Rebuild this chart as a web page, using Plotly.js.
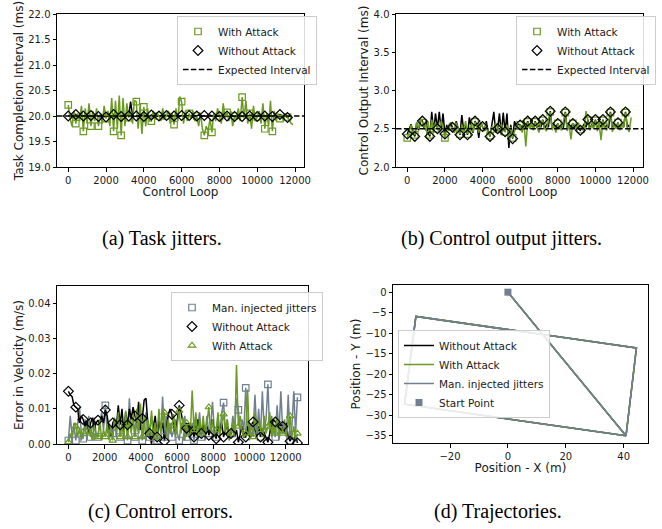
<!DOCTYPE html>
<html>
<head>
<meta charset="utf-8">
<script src="https://cdn.plot.ly/plotly-3.0.1.min.js"></script>
<style>html,body{margin:0;padding:0;background:#fff;}#chart{width:662px;height:529px;}</style>
</head>
<body>
<div id="chart"></div>
<script>
// ---------- DATA ----------
// (a) Task completion interval (ms), one value per 100 control loops
const taskStep = 100;
const taskWithAttack = [
20.22,19.95,19.80,20.10,19.85,20.05,19.90,20.20,19.70,20.15,19.85,20.25,19.80,20.10,19.90,20.15,
19.80,20.05,19.85,20.20,19.95,20.10,19.80,20.35,19.70,20.30,19.75,20.40,19.62,20.35,19.80,20.25,
19.97,20.10,19.85,20.30,20.28,19.75,20.20,19.65,20.18,19.80,20.15,19.90,19.90,20.10,19.95,20.05,
20.00,19.90,20.15,19.95,20.00,20.10,19.85,20.05,19.83,20.15,19.90,20.38,20.28,19.85,20.10,19.90,
20.05,19.95,20.10,19.90,20.00,19.80,20.05,19.75,19.62,19.80,19.70,19.95,19.68,20.05,19.90,20.15,
20.00,19.85,20.25,19.95,20.07,19.90,20.10,19.80,20.00,19.95,20.15,19.90,20.37,19.95,20.30,19.85,
20.05,19.75,20.20,19.90,19.98,20.10,19.85,20.25,19.75,20.05,19.80,20.30,19.70,20.10,19.90,20.05,
19.95,20.00,19.90,20.05,19.98,19.90,19.85,19.83];
const taskWithoutAttack = [
20.00,20.01,19.99,20.02,20.03,19.98,20.01,20.00,20.00,20.02,19.99,20.01,20.01,20.00,19.98,20.02,
19.99,20.01,20.00,19.99,19.98,20.01,20.02,20.00,20.03,20.01,19.99,20.00,19.99,20.02,20.00,20.01,
20.00,20.28,20.02,19.99,20.00,20.01,19.99,20.02,19.99,20.00,20.01,19.99,20.02,20.00,20.03,19.99,
20.00,20.01,19.98,20.02,20.01,20.00,19.99,20.01,20.00,20.02,19.99,20.00,20.01,19.99,20.02,20.00,
20.01,20.00,19.99,20.01,20.00,20.02,19.99,20.00,20.01,19.99,20.00,20.02,20.00,20.01,19.99,20.00,
19.99,20.01,20.00,20.02,20.00,19.99,20.01,20.00,19.99,20.00,20.02,20.01,19.99,20.00,20.01,19.99,
20.00,20.02,20.00,19.99,19.99,20.01,20.00,20.02,20.00,19.99,20.01,20.00,19.99,20.01,20.00,20.02,
20.03,20.01,19.99,20.00,19.97,20.00,19.99];
const taskExpected = [20.0];

// (b) Control output interval (ms), one value per 100 control loops
const outStep = 100;
const outWithAttack = [
2.38,2.45,2.55,2.48,2.42,2.58,2.50,2.62,2.58,2.52,2.47,2.60,2.42,2.62,2.48,2.58,
2.50,2.45,2.60,2.52,2.38,2.50,2.55,2.48,2.52,2.45,2.58,2.50,2.43,2.55,2.47,2.60,
2.43,2.50,2.56,2.46,2.59,2.52,2.45,2.57,2.52,2.48,2.55,2.44,2.41,2.53,2.47,2.58,
2.50,2.45,2.56,2.48,2.46,2.55,2.38,2.52,2.38,2.48,2.55,2.50,2.55,2.45,2.58,2.27,
2.59,2.50,2.56,2.48,2.59,2.52,2.45,2.58,2.61,2.50,2.47,2.62,2.72,2.48,2.56,2.45,
2.57,2.52,2.48,2.60,2.71,2.47,2.55,2.36,2.57,2.55,2.50,2.58,2.49,2.52,2.45,2.73,
2.61,2.48,2.55,2.50,2.61,2.47,2.56,2.35,2.61,2.52,2.48,2.58,2.71,2.46,2.55,2.50,
2.58,2.48,2.55,2.52,2.71,2.50,2.46,2.65];
const outWithoutAttack = [
2.43,2.50,2.56,2.45,2.40,2.58,2.48,2.60,2.60,2.50,2.62,2.45,2.40,2.72,2.45,2.70,
2.50,2.72,2.48,2.70,2.43,2.55,2.48,2.58,2.52,2.45,2.60,2.50,2.42,2.68,2.47,2.55,
2.42,2.65,2.50,2.45,2.60,2.55,2.38,2.58,2.53,2.47,2.60,2.45,2.40,2.55,2.72,2.45,
2.50,2.70,2.42,2.71,2.46,2.70,2.25,2.55,2.37,2.60,2.52,2.56,2.55,2.52,2.56,2.50,
2.60,2.52,2.55,2.50,2.60,2.51,2.55,2.52,2.62,2.50,2.55,2.52,2.73,2.50,2.55,2.52,
2.57,2.50,2.53,2.52,2.72,2.50,2.55,2.52,2.57,2.52,2.55,2.50,2.48,2.52,2.56,2.52,
2.62,2.50,2.55,2.52,2.62,2.50,2.56,2.52,2.62,2.50,2.55,2.51,2.72,2.50,2.55,2.52,
2.58,2.50,2.55,2.52,2.72,2.52,2.55];
const outExpected = [2.5];

// (c) Error in velocity (m/s), one value per 102 control loops
const errStep = 102;
const errManual = [
0.0010,0.0080,0.0020,0.0050,0.0010,0.0060,0.0105,0.0030,0.0015,0.0070,0.0040,0.0080,0.0020,0.0050,0.0075,0.0030,
0.0020,0.0060,0.0090,0.0040,0.0110,0.0030,0.0060,0.0020,0.0030,0.0070,0.0040,0.0090,0.0020,0.0060,0.0030,0.0080,
0.0010,0.0130,0.0040,0.0070,0.0020,0.0060,0.0030,0.0080,0.0010,0.0050,0.0090,0.0030,0.0020,0.0080,0.0040,0.0060,
0.0010,0.0070,0.0030,0.0135,0.0020,0.0080,0.0030,0.0060,0.0020,0.0040,0.0070,0.0030,0.0010,0.0060,0.0040,0.0080,
0.0020,0.0050,0.0030,0.0060,0.0010,0.0070,0.0040,0.0090,0.0020,0.0060,0.0030,0.0080,0.0030,0.0050,0.0120,0.0040,
0.0020,0.0070,0.0030,0.0090,0.0118,0.0040,0.0070,0.0020,0.0030,0.0080,0.0040,0.0130,0.0097,0.0030,0.0070,0.0040,
0.0160,0.0030,0.0060,0.0020,0.0040,0.0140,0.0030,0.0100,0.0020,0.0150,0.0040,0.0070,0.0170,0.0030,0.0080,0.0040,
0.0020,0.0110,0.0030,0.0150,0.0040,0.0060,0.0020,0.0140,0.0010,0.0050,0.0150,0.0030,0.0133];
const errWithoutAttack = [
0.0150,0.0140,0.0135,0.0110,0.0105,0.0100,0.0060,0.0080,0.0070,0.0050,0.0065,0.0030,0.0060,0.0075,0.0040,0.0060,
0.0068,0.0055,0.0080,0.0060,0.0097,0.0080,0.0040,0.0020,0.0060,0.0070,0.0050,0.0110,0.0055,0.0100,0.0030,0.0090,
0.0055,0.0100,0.0070,0.0105,0.0080,0.0060,0.0120,0.0040,0.0073,0.0125,0.0130,0.0060,0.0030,0.0000,0.0050,0.0080,
0.0020,0.0070,0.0040,0.0060,0.0008,0.0050,0.0080,0.0100,0.0085,0.0050,0.0030,0.0070,0.0110,0.0090,0.0060,0.0030,
0.0045,0.0060,0.0020,0.0050,0.0020,0.0040,0.0070,0.0030,0.0030,0.0060,0.0020,0.0050,0.0025,0.0040,0.0070,0.0030,
0.0015,0.0050,0.0030,0.0060,0.0020,0.0040,0.0050,0.0020,0.0030,0.0050,0.0020,0.0040,0.0005,0.0030,0.0050,0.0020,
0.0020,0.0050,0.0030,0.0055,0.0063,0.0040,0.0020,0.0050,0.0020,0.0045,0.0030,0.0015,0.0005,0.0030,0.0050,0.0070,
0.0063,0.0060,0.0040,0.0055,0.0050,0.0030,0.0060,0.0020,0.0008,0.0020,0.0010,0.0025,0.0003];
const errWithAttack = [
0.0005,0.0030,0.0010,0.0060,0.0050,0.0020,0.0045,0.0010,0.0035,0.0050,0.0015,0.0060,0.0030,0.0010,0.0055,0.0020,
0.0020,0.0070,0.0010,0.0040,0.0020,0.0060,0.0010,0.0050,0.0010,0.0075,0.0020,0.0090,0.0020,0.0060,0.0010,0.0095,
0.0020,0.0070,0.0030,0.0085,0.0020,0.0100,0.0030,0.0115,0.0020,0.0080,0.0010,0.0070,0.0030,0.0095,0.0020,0.0060,
0.0020,0.0100,0.0030,0.0080,0.0090,0.0020,0.0070,0.0030,0.0050,0.0085,0.0020,0.0060,0.0095,0.0030,0.0075,0.0010,
0.0060,0.0020,0.0030,0.0152,0.0040,0.0090,0.0020,0.0070,0.0030,0.0080,0.0010,0.0060,0.0105,0.0030,0.0070,0.0020,
0.0040,0.0090,0.0020,0.0060,0.0085,0.0030,0.0070,0.0010,0.0030,0.0060,0.0020,0.0225,0.0050,0.0080,0.0040,0.0020,
0.0030,0.0155,0.0010,0.0060,0.0020,0.0090,0.0030,0.0070,0.0040,0.0020,0.0080,0.0030,0.0050,0.0090,0.0020,0.0060,
0.0030,0.0080,0.0010,0.0050,0.0030,0.0070,0.0020,0.0060,0.0080,0.0020,0.0050,0.0010,0.0030];

// (d) Trajectory (m) – the three runs overlap
const trajX = [0, 40.8, 44.4, -31.8, -35.7, 40.8];
const trajY = [0, -35.0, -13.6, -5.9, -27.3, -35.0];
const startX = [0];
const startY = [0];

// ---------- STYLE ----------
const GREEN = '#6b9a22', BLACK = '#000000', GRAY = '#708090';
const markEvery = 4;
const every = (arr, n) => arr.filter((v, i) => i % n === 0);
const FONT = 'DejaVu Sans, Liberation Sans, sans-serif';

const rangeA = [-594, 12474], rangeB = [-600, 12530], rangeC = [-630, 13230];

function lineTrace(y, step, color, ax, extra) {
  return Object.assign({type:'scatter', mode:'lines', x0:0, dx:step, y:y,
    line:{color:color, width:1.5}, showlegend:false, xaxis:'x'+ax, yaxis:'y'+ax, hoverinfo:'skip'}, extra||{});
}
function markTrace(y, step, color, symbol, name, ax, legend, rank, size) {
  return {type:'scatter', mode:'markers', x0:0, dx:step*markEvery, y:every(y, markEvery), name:name,
    marker:{symbol:symbol, size:size||7, color:color, line:{color:color, width:1.2}},
    xaxis:'x'+ax, yaxis:'y'+ax, legend:legend, legendrank:rank, showlegend:true};
}
function expTrace(val, range, ax, legend) {
  return {type:'scatter', mode:'lines', x:[range[0], range[1]], y:[val[0], val[0]], name:'Expected Interval',
    line:{color:BLACK, width:1.5, dash:'5.5px,2.4px'}, xaxis:'x'+ax, yaxis:'y'+ax, legend:legend, legendrank:3, showlegend:true};
}

const data = [
  // (a)
  lineTrace(taskWithoutAttack, taskStep, BLACK, ''),
  lineTrace(taskWithAttack, taskStep, GREEN, ''),
  expTrace(taskExpected, rangeA, '', 'legend'),
  markTrace(taskWithAttack, taskStep, GREEN, 'square-open', 'With Attack', '', 'legend', 1, 6.5),
  markTrace(taskWithoutAttack, taskStep, BLACK, 'diamond-open', 'Without Attack', '', 'legend', 2, 7.5),
  // (b)
  lineTrace(outWithoutAttack, outStep, BLACK, '2'),
  lineTrace(outWithAttack, outStep, GREEN, '2'),
  expTrace(outExpected, rangeB, '2', 'legend2'),
  markTrace(outWithAttack, outStep, GREEN, 'square-open', 'With Attack', '2', 'legend2', 1, 6.5),
  markTrace(outWithoutAttack, outStep, BLACK, 'diamond-open', 'Without Attack', '2', 'legend2', 2, 7.5),
  // (c)
  lineTrace(errManual, errStep, GRAY, '3'),
  lineTrace(errWithoutAttack, errStep, BLACK, '3'),
  lineTrace(errWithAttack, errStep, GREEN, '3'),
  markTrace(errManual, errStep, GRAY, 'square-open', 'Man. injected jitters', '3', 'legend3', 1, 6.5),
  markTrace(errWithoutAttack, errStep, BLACK, 'diamond-open', 'Without Attack', '3', 'legend3', 2, 7.5),
  markTrace(errWithAttack, errStep, GREEN, 'triangle-up-open', 'With Attack', '3', 'legend3', 3, 6.5),
  // (d)
  {type:'scatter', mode:'lines', x:trajX, y:trajY, name:'Without Attack', line:{color:BLACK, width:1.5},
   xaxis:'x4', yaxis:'y4', legend:'legend4', legendrank:1},
  {type:'scatter', mode:'lines', x:trajX, y:trajY, name:'With Attack', line:{color:GREEN, width:1.5},
   xaxis:'x4', yaxis:'y4', legend:'legend4', legendrank:2},
  {type:'scatter', mode:'lines', x:trajX, y:trajY, name:'Man. injected jitters', line:{color:GRAY, width:1.5},
   xaxis:'x4', yaxis:'y4', legend:'legend4', legendrank:3},
  {type:'scatter', mode:'markers', x:startX, y:startY, name:'Start Point',
   marker:{symbol:'square', size:7, color:GRAY}, xaxis:'x4', yaxis:'y4', legend:'legend4', legendrank:4}
];

const W = 662, H = 529;
function ax(domainPx, titleText, range, extra, vertical) {
  const d = vertical ? [1 - domainPx[1]/H, 1 - domainPx[0]/H] : [domainPx[0]/W, domainPx[1]/W];
  return Object.assign({domain:d, range:range, autorange:false, showline:true, mirror:true,
    linecolor:'#000', linewidth:1, ticks:'outside', ticklen:3.5, tickwidth:1, tickcolor:'#000',
    showgrid:false, zeroline:false, tickfont:{family:FONT, size:10, color:'#1a1a1a'},
    title:{text:titleText, font:{family:FONT, size:12, color:'#1a1a1a'}, standoff:2}}, extra||{});
}
function leg(xpx, ypx) {
  return {x:xpx/W, y:1-ypx/H, xanchor:'left', yanchor:'top', bgcolor:'rgba(255,255,255,0.85)',
    bordercolor:'#cccccc', borderwidth:1, font:{family:FONT, size:10.5, color:'#1a1a1a'},
    itemwidth:30, tracegroupgap:0};
}
const xTicks = {tickmode:'array', tickvals:[0,2000,4000,6000,8000,10000,12000], tickformat:'d'};

const layout = {
  width:W, height:H, margin:{l:0, r:0, t:0, b:0}, paper_bgcolor:'#fff', plot_bgcolor:'#fff',
  font:{family:FONT, color:'#1a1a1a'},
  xaxis: ax([57,304], 'Control Loop', rangeA, Object.assign({anchor:'y'}, xTicks)),
  yaxis: ax([14,167], 'Task Completion Interval (ms)', [19.0,22.0], {anchor:'x', dtick:0.5, tick0:19, tickformat:'.1f'}, true),
  xaxis2: ax([396,643], 'Control Loop', rangeB, Object.assign({anchor:'y2'}, xTicks)),
  yaxis2: ax([14,167], 'Control Output Interval (ms)', [2.0,4.0], {anchor:'x2', dtick:0.5, tick0:2, tickformat:'.1f'}, true),
  xaxis3: ax([57,308], 'Control Loop', rangeC, Object.assign({anchor:'y3'}, xTicks)),
  yaxis3: ax([286,444], 'Error in Velocity (m/s)', [0,0.045], {anchor:'x3', dtick:0.01, tick0:0, tickformat:'.2f'}, true),
  xaxis4: ax([393,648], 'Position - X (m)', [-39.7,48.4], {anchor:'y4', dtick:20, tick0:0}),
  yaxis4: ax([285,443], 'Position - Y (m)', [-36.75,1.75], {anchor:'x4', dtick:5, tick0:0}, true),
  legend: leg(177,16),
  legend2: leg(516,16),
  legend3: leg(171,292),
  legend4: leg(398,330),
  annotations: [
    {text:'(a) Task jitters.', x:162/W, y:1-238/H},
    {text:'(b) Control output jitters.', x:501/W, y:1-238/H},
    {text:'(c) Control errors.', x:160/W, y:1-511/H},
    {text:'(d) Trajectories.', x:498/W, y:1-511/H}
  ].map(a => Object.assign({xref:'paper', yref:'paper', xanchor:'center', yanchor:'middle', showarrow:false,
    font:{family:'Liberation Serif, Times New Roman, serif', size:20, color:'#000'}}, a))
};

Plotly.newPlot('chart', data, layout, {staticPlot:true, displayModeBar:false});
</script>
</body>
</html>
